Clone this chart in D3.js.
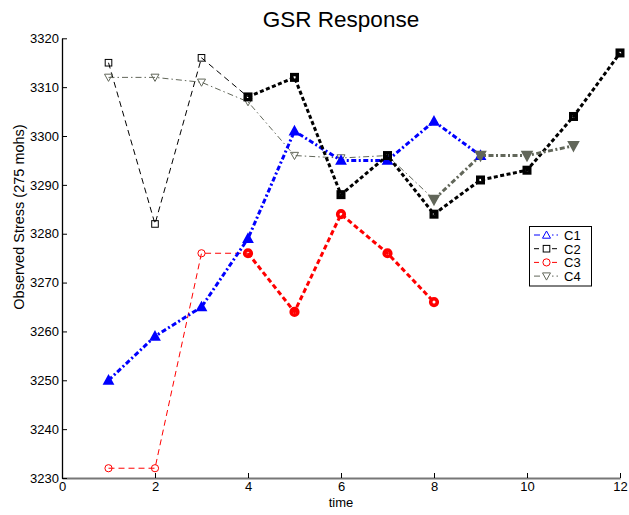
<!DOCTYPE html>
<html><head><meta charset="utf-8">
<script src="https://cdn.jsdelivr.net/npm/d3@7"></script>
<style>body{margin:0;background:#fff}svg{display:block;font-family:"Liberation Sans",Arial,sans-serif}</style>
</head><body>
<script>
// ---- data ----
const xTicks = [0,2,4,6,8,10,12];
const yTicks = [3230,3240,3250,3260,3270,3280,3290,3300,3310,3320];
const seriesNames = ["C1","C2","C3","C4"];
const c1X = [1,2,3,4,5,6,7,8,9];
const c1Y = [3250,3259,3265,3279,3301,3295,3295,3303,3296];
const c2ThinX = [1,2,3,4];
const c2ThinY = [3315,3282,3316,3308];
const c2ThickX = [4,5,6,7,8,9,10,11,12];
const c2ThickY = [3308,3312,3288,3296,3284,3291,3293,3304,3317];
const c3ThinX = [1,2,3,4];
const c3ThinY = [3232,3232,3276,3276];
const c3ThickX = [4,5,6,7,8];
const c3ThickY = [3276,3264,3284,3276,3266];
const c4ThinX = [1,2,3,4,5,6,7,8];
const c4ThinY = [3312,3312,3311,3307,3296,3295.5,3296,3287];
const c4ThickX = [8,9,10,11];
const c4ThickY = [3287,3296,3296,3298];

const W = 629, H = 515;
const svg = d3.select("body").append("svg").attr("width", W).attr("height", H);
const x = d3.scaleLinear().domain([0,12]).range([62,620]);
const y = d3.scaleLinear().domain([3230,3320]).range([478,38.3]);

const colors = {C1:"#0000ff", C2:"#000000", C3:"#ff0000", C4:"#62675a"};
const fmt = d3.format("d");

// axes
const xa = svg.append("g").attr("transform", `translate(0,${y(3230)})`)
  .call(d3.axisBottom(x).tickValues(xTicks).tickFormat(fmt).tickSizeInner(-5).tickSizeOuter(0).tickPadding(4));
xa.select(".domain").attr("stroke","#777").attr("stroke-width",2);
xa.selectAll(".tick line").attr("stroke","#000");
xa.selectAll("text").attr("font-size",13).attr("fill","#000").attr("font-family","Liberation Sans, Arial");
const ya = svg.append("g").attr("transform", `translate(${x(0)},0)`)
  .call(d3.axisLeft(y).tickValues(yTicks).tickFormat(fmt).tickSizeInner(-5).tickSizeOuter(0).tickPadding(3));
ya.select(".domain").attr("stroke","#000").attr("stroke-width",1.3);
ya.selectAll(".tick line").attr("stroke","#000");
ya.selectAll("text").attr("font-size",13).attr("fill","#000").attr("font-family","Liberation Sans, Arial");

svg.append("text").attr("x",341).attr("y",27).attr("text-anchor","middle")
  .attr("font-size",22.5).text("GSR Response");
svg.append("text").attr("x",341).attr("y",507).attr("text-anchor","middle")
  .attr("font-size",13).text("time");
svg.append("text").attr("transform","translate(24,217) rotate(-90)").attr("text-anchor","middle")
  .attr("font-size",14.5).text("Observed Stress (275 mohs)");

const line = d3.line().x(d=>x(d[0])).y(d=>y(d[1]));
const zip = (a,b)=>a.map((v,i)=>[v,b[i]]);

function marker(g, type, cx, cy, color, thick){
  if(type==="circle"){
    if(thick) g.append("circle").attr("cx",cx).attr("cy",cy).attr("r",3.3).attr("fill","none").attr("stroke",color).attr("stroke-width",3.6);
    else g.append("circle").attr("cx",cx).attr("cy",cy).attr("r",3.6).attr("fill","none").attr("stroke",color).attr("stroke-width",1);
  } else if(type==="square"){
    if(thick) g.append("rect").attr("x",cx-2.8).attr("y",cy-2.8).attr("width",5.6).attr("height",5.6).attr("fill","none").attr("stroke",color).attr("stroke-width",3.4);
    else g.append("rect").attr("x",cx-3.3).attr("y",cy-3.3).attr("width",6.6).attr("height",6.6).attr("fill","none").attr("stroke",color).attr("stroke-width",1);
  } else if(type==="up"){
    const s = thick?4.2:4;
    const p = `M${cx},${cy-s} L${cx+s},${cy+s*0.8} L${cx-s},${cy+s*0.8}Z`;
    g.append("path").attr("d",p).attr("fill",thick?color:"none").attr("stroke",color).attr("stroke-width",thick?2:1);
  } else if(type==="down"){
    const s = thick?4.6:4;
    const p = `M${cx},${cy+s} L${cx+s},${cy-s*0.8} L${cx-s},${cy-s*0.8}Z`;
    g.append("path").attr("d",p).attr("fill",thick?color:"none").attr("stroke",color).attr("stroke-width",thick?2:1);
  }
}

function drawSeries(xs, ys, color, dash, width, mtype, thick){
  const g = svg.append("g");
  const pts = zip(xs, ys);
  g.append("path").attr("d", line(pts)).attr("fill","none").attr("stroke",color)
    .attr("stroke-width",width).attr("stroke-dasharray",dash);
  pts.forEach(p=>marker(g, mtype, x(p[0]), y(p[1]), color, thick));
}

const thinDash = "6,4", thinDashDot = "6,3,1.5,3";
// thin parts
drawSeries(c2ThinX, c2ThinY, colors.C2, thinDash, 1, "square", false);
drawSeries(c3ThinX, c3ThinY, colors.C3, thinDash, 1, "circle", false);
drawSeries(c4ThinX, c4ThinY, colors.C4, thinDashDot, 1, "down", false);
// thick parts
drawSeries(c1X, c1Y, colors.C1, "5,2.5,2,2.5", 3, "up", true);
drawSeries(c2ThickX, c2ThickY, colors.C2, "4,2.5", 3, "square", true);
drawSeries(c3ThickX, c3ThickY, colors.C3, "5,3", 3, "circle", true);
drawSeries(c4ThickX, c4ThickY, colors.C4, "5,2.5,2,2.5", 3, "down", true);

// legend
const lg = svg.append("g");
lg.append("rect").attr("x",529.5).attr("y",226.5).attr("width",62).attr("height",59.5)
  .attr("fill","#fff").attr("stroke","#000").attr("stroke-width",1);
const legStyles = [
  {t:"up", d:thinDashDot},{t:"square", d:"5,4"},{t:"circle", d:"5,4"},{t:"down", d:thinDashDot}
];
seriesNames.forEach((n,i)=>{
  const cy = 235 + i*13.7;
  lg.append("line").attr("x1",534).attr("x2",560).attr("y1",cy).attr("y2",cy)
    .attr("stroke",colors[n]).attr("stroke-width",1).attr("stroke-dasharray",legStyles[i].d);
  lg.append("rect").attr("x",541).attr("y",cy-5).attr("width",11).attr("height",10).attr("fill","#fff");
  marker(lg, legStyles[i].t, 546.5, cy, colors[n], false);
  lg.append("text").attr("x",564).attr("y",cy+5).attr("font-size",13).text(n);
});
</script>
</body></html>
